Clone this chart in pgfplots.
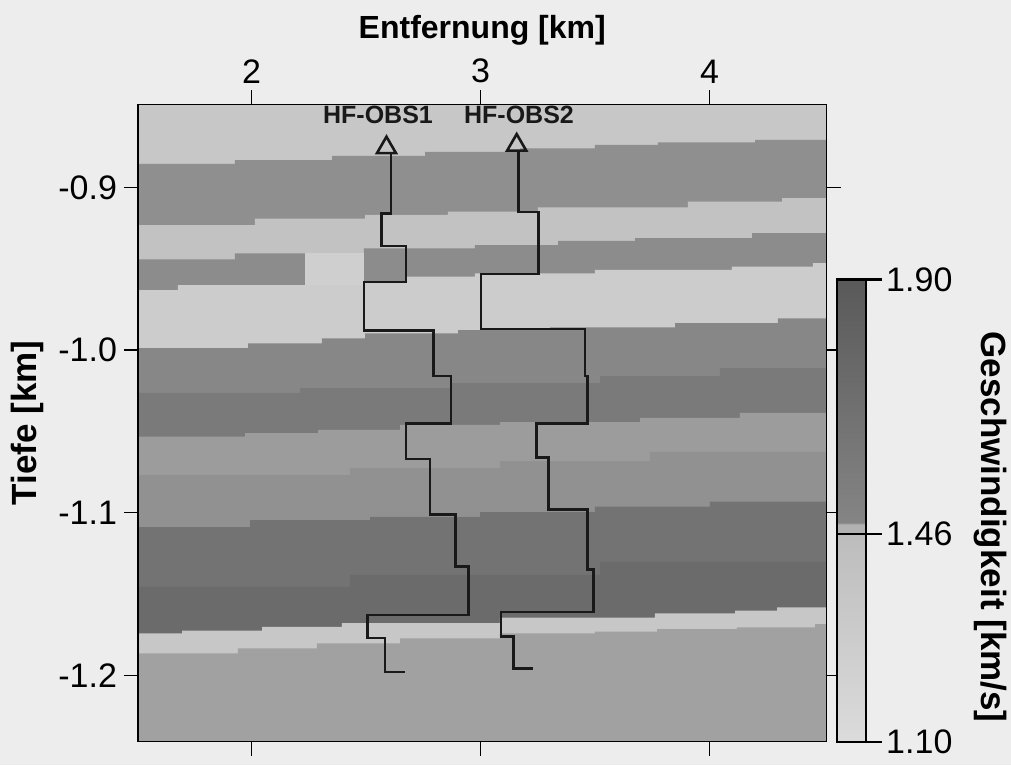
\documentclass[border=0pt]{standalone}
\usepackage{fontspec}
\setmainfont{Liberation Sans}
\usepackage{pgfplots}
\pgfplotsset{compat=1.18}
\definecolor{bg}{gray}{0.93}
\definecolor{cL0}{gray}{0.78}
\definecolor{cM1}{gray}{0.56}
\definecolor{cL1}{gray}{0.76}
\definecolor{cB}{gray}{0.55}
\definecolor{cGap}{gray}{0.81}
\definecolor{cL2}{gray}{0.80}
\definecolor{cM2}{gray}{0.53}
\definecolor{cD1}{gray}{0.48}
\definecolor{cLM}{gray}{0.61}
\definecolor{cM3}{gray}{0.57}
\definecolor{cD2}{gray}{0.45}
\definecolor{cD3}{gray}{0.42}
\definecolor{cLS}{gray}{0.78}
\definecolor{cBot}{gray}{0.63}
\definecolor{prof}{gray}{0.1}
\newcommand{\tickfont}{\fontsize{17}{20}\selectfont}
\newcommand{\labfont}{\bfseries\fontsize{17.5}{21}\selectfont}
\begin{document}
\begin{tikzpicture}
\path[use as bounding box, fill=bg] (-69pt,-11.65pt) rectangle (436.5pt,370.85pt);
\begin{axis}[
  at={(0,0)}, anchor=south west,
  scale only axis, width=344.25pt, height=318.7pt,
  xmin=1.5035, xmax=4.5101, ymin=-1.2409, ymax=-0.8487,
  axis on top,
  xtick={2,3,4}, xticklabels={2,3,4},
  ytick={-0.9,-1.0,-1.1,-1.2}, yticklabels={-0.9,-1.0,-1.1,-1.2},
  xtick pos=both, xticklabel pos=right,
  ytick pos=both, yticklabel pos=left,
  tick align=outside, major tick length=7pt,
  axis line style={line width=0.7pt},
  every tick/.style={line width=0.7pt, black},
  ticklabel style={font=\tickfont},
  xlabel={Entfernung [km]}, ylabel={Tiefe [km]},
  every axis x label/.style={at={(axis description cs:0.5,1.1166)}, anchor=center, font=\bfseries\fontsize{16}{19}\selectfont},
  every axis y label/.style={at={(axis description cs:-0.1612,0.5)}, rotate=90, anchor=center, font=\labfont},
  colormap={vel}{gray(0)=(0.86) gray(360)=(0.74) gray(361)=(0.70) gray(377)=(0.70) gray(378)=(0.52) gray(800)=(0.35)},
  point meta min=1.1, point meta max=1.9,
  colorbar,
  colorbar style={
    at={(parent axis.south east)}, anchor=south west, xshift=-3.2pt,
    scale only axis, width=14.5pt, height=231.15pt,
    ytick={1.1,1.46,1.9}, yticklabels={1.10,1.46,1.90},
    ytick pos=right, yticklabel pos=right,
    tick align=outside, major tick length=8pt,
    axis line style={line width=1.1pt},
    every tick/.style={line width=1.1pt, black},
    yticklabel style={font=\tickfont, xshift=-1.5pt},
  },
]
% layers (each fills the region below its upper boundary)
\addplot[draw=none, fill=cL0] coordinates {(1.40,-0.80) (4.60,-0.80) (4.60,-1.30) (1.40,-1.30)} --cycle;
\addplot[const plot, draw=none, fill=cM1] coordinates {(1.40,-0.8854) (1.927,-0.8830) (2.351,-0.8805) (2.757,-0.8780) (3.172,-0.8759) (3.499,-0.8737) (3.774,-0.8722) (4.198,-0.8706) (4.60,-0.8706) (4.60,-1.30) (1.40,-1.30)} --cycle;
\addplot[const plot, draw=none, fill=cL1] coordinates {(1.40,-0.9230) (2.014,-0.9190) (2.495,-0.9168) (2.857,-0.9148) (3.250,-0.9122) (3.905,-0.9086) (4.316,-0.9065) (4.60,-0.9065) (4.60,-1.30) (1.40,-1.30)} --cycle;
\addplot[const plot, draw=none, fill=cB] coordinates {(1.40,-0.9441) (1.927,-0.9405) (2.490,-0.9373) (2.975,-0.9353) (3.338,-0.9328) (3.674,-0.9311) (4.185,-0.9279) (4.60,-0.9279) (4.60,-1.30) (1.40,-1.30)} --cycle;
\addplot[draw=none, fill=cGap] coordinates {(2.233,-0.9405) (2.490,-0.9405) (2.490,-0.970) (2.233,-0.970)} --cycle;
\addplot[const plot, draw=none, fill=cL2] coordinates {(1.40,-0.9630) (1.678,-0.9599) (2.490,-0.9578) (2.670,-0.9548) (2.975,-0.9527) (3.499,-0.9506) (4.097,-0.9486) (4.451,-0.9465) (4.60,-0.9465) (4.60,-1.30) (1.40,-1.30)} --cycle;
\addplot[const plot, draw=none, fill=cM2] coordinates {(1.40,-0.9988) (1.984,-0.9958) (2.307,-0.9927) (2.495,-0.9896) (2.901,-0.9876) (3.303,-0.9860) (3.849,-0.9834) (4.298,-0.9804) (4.60,-0.9804) (4.60,-1.30) (1.40,-1.30)} --cycle;
\addplot[const plot, draw=none, fill=cD1] coordinates {(1.40,-1.0263) (2.211,-1.0233) (2.866,-1.0202) (3.521,-1.0159) (4.045,-1.0110) (4.60,-1.0110) (4.60,-1.30) (1.40,-1.30)} --cycle;
\addplot[const plot, draw=none, fill=cLM] coordinates {(1.40,-1.0532) (1.971,-1.0511) (2.290,-1.0491) (2.648,-1.0460) (3.084,-1.0442) (3.696,-1.0417) (4.132,-1.0386) (4.60,-1.0386) (4.60,-1.30) (1.40,-1.30)} --cycle;
\addplot[const plot, draw=none, fill=cM3] coordinates {(1.40,-1.0768) (2.429,-1.0725) (3.084,-1.0682) (3.739,-1.0626) (4.60,-1.0626) (4.60,-1.30) (1.40,-1.30)} --cycle;
\addplot[const plot, draw=none, fill=cD2] coordinates {(1.40,-1.1088) (1.993,-1.1045) (2.517,-1.1025) (2.997,-1.0996) (3.499,-1.0963) (4.001,-1.0932) (4.60,-1.0932) (4.60,-1.30) (1.40,-1.30)} --cycle;
\addplot[const plot, draw=none, fill=cD3] coordinates {(1.40,-1.1457) (2.429,-1.1383) (3.521,-1.1303) (4.60,-1.1303) (4.60,-1.30) (1.40,-1.30)} --cycle;
\addplot[const plot, draw=none, fill=cLS] coordinates {(1.40,-1.1742) (1.696,-1.1726) (2.045,-1.1702) (2.394,-1.1679) (3.084,-1.1645) (3.761,-1.1619) (4.111,-1.1603) (4.294,-1.1582) (4.60,-1.1582) (4.60,-1.30) (1.40,-1.30)} --cycle;
\addplot[const plot, draw=none, fill=cBot] coordinates {(1.40,-1.1865) (1.940,-1.1835) (2.285,-1.1804) (2.648,-1.1773) (3.084,-1.1742) (3.499,-1.1732) (3.770,-1.1717) (4.119,-1.1705) (4.460,-1.1685) (4.60,-1.1685) (4.60,-1.30) (1.40,-1.30)} --cycle;
% velocity profiles
\addplot[prof, line width=1.3pt] coordinates {(2.608,-0.879) (2.608,-0.916) (2.568,-0.916) (2.568,-0.936) (2.673,-0.936) (2.673,-0.958) (2.491,-0.958) (2.491,-0.988) (2.793,-0.988) (2.793,-1.016) (2.870,-1.016) (2.870,-1.045) (2.673,-1.045) (2.673,-1.067) (2.779,-1.067) (2.779,-1.101) (2.891,-1.101) (2.891,-1.133) (2.946,-1.133) (2.946,-1.163) (2.507,-1.163) (2.507,-1.177) (2.582,-1.177) (2.582,-1.198) (2.669,-1.198)};
\addplot[prof, line width=1.3pt] coordinates {(3.164,-0.877) (3.164,-0.915) (3.252,-0.915) (3.252,-0.953) (3.001,-0.953) (3.001,-0.987) (3.456,-0.987) (3.456,-1.016) (3.467,-1.016) (3.467,-1.045) (3.245,-1.045) (3.245,-1.066) (3.295,-1.066) (3.295,-1.098) (3.467,-1.098) (3.467,-1.135) (3.492,-1.135) (3.492,-1.161) (3.089,-1.161) (3.089,-1.176) (3.142,-1.176) (3.142,-1.196) (3.230,-1.196)};
% stations
\addplot[only marks, mark=triangle, mark size=5.5pt, mark options={line width=1.3pt, draw=prof}] coordinates {(2.5886,-0.8754) (3.1572,-0.8738)};
\node[font=\bfseries\fontsize{12.5}{15}\selectfont, text=prof] at (axis cs:2.5515,-0.8553) {HF-OBS1};
\node[font=\bfseries\fontsize{12.5}{15}\selectfont, text=prof] at (axis cs:3.1672,-0.8553) {HF-OBS2};
\end{axis}
\draw[line width=1.1pt, black] (349.35pt,104pt) -- (371.85pt,104pt);
\node[rotate=-90, font=\labfont, anchor=center] at (426pt,107.35pt) {Geschwindigkeit [km/s]};
\end{tikzpicture}
\end{document}
